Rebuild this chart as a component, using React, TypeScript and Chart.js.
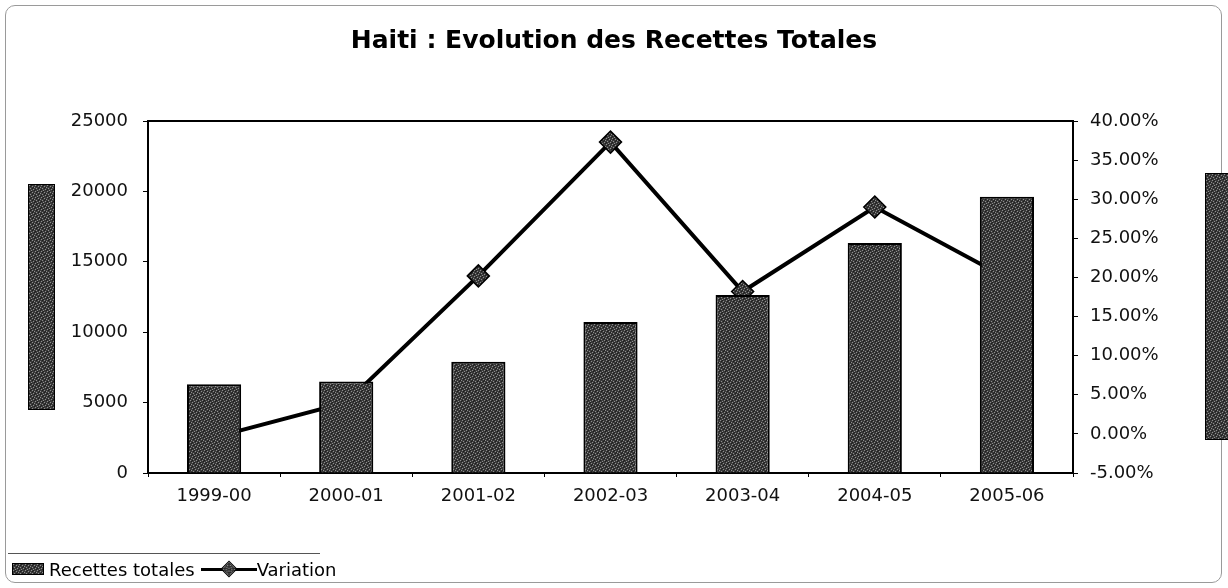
import React, { useEffect, useRef, useState } from "react";
import { Chart, registerables } from "chart.js";

Chart.register(...registerables);

const title = "Haiti : Evolution des Recettes Totales";
const categories = ["1999-00", "2000-01", "2001-02", "2002-03", "2003-04", "2004-05", "2005-06"];
const recettesTotales = [6300, 6490, 7900, 10720, 12640, 16330, 19620];
const variation = [-0.44, 4.03, 20.2, 37.3, 18.2, 29.0, 19.9];
const leftTicks = [0, 5000, 10000, 15000, 20000, 25000];
const rightTicks = [-5, 0, 5, 10, 15, 20, 25, 30, 35, 40];
const seriesNames = ["Recettes totales", "Variation"];

const FONT = "'DejaVu Sans', 'Liberation Sans', Arial, sans-serif";

function makePattern(): HTMLCanvasElement {
  const c = document.createElement("canvas");
  c.width = 6;
  c.height = 6;
  const ctx = c.getContext("2d")!;
  ctx.fillStyle = "#3a3a3a";
  ctx.fillRect(0, 0, 6, 6);
  ctx.fillStyle = "#8e8e8e";
  [[0, 0], [3, 1], [1, 3], [4, 4], [5, 2], [2, 5]].forEach(([x, y]) => ctx.fillRect(x, y, 1, 1));
  ctx.fillStyle = "#1e1e1e";
  [[2, 0], [5, 5], [0, 4], [3, 3], [1, 1], [4, 2]].forEach(([x, y]) => ctx.fillRect(x, y, 1, 1));
  return c;
}

const frameTop = {
  id: "frameTop",
  afterDatasetsDraw(chart: any) {
    const { ctx, chartArea } = chart;
    ctx.save();
    ctx.strokeStyle = "#000";
    ctx.lineWidth = 2;
    ctx.beginPath();
    ctx.moveTo(chartArea.left, chartArea.top);
    ctx.lineTo(chartArea.right, chartArea.top);
    ctx.stroke();
    ctx.restore();
  },
};

export default function App() {
  const canvasRef = useRef<HTMLCanvasElement | null>(null);
  const [patternUrl, setPatternUrl] = useState<string>("");

  useEffect(() => {
    const patCanvas = makePattern();
    setPatternUrl(patCanvas.toDataURL());
    const ctx = canvasRef.current!.getContext("2d")!;
    const pattern = ctx.createPattern(patCanvas, "repeat")!;

    const chart = new Chart(ctx, {
      data: {
        labels: categories,
        datasets: [
          {
            type: "bar",
            label: seriesNames[0],
            data: recettesTotales,
            yAxisID: "y",
            backgroundColor: pattern as any,
            borderColor: "#000",
            borderWidth: 2,
            barPercentage: 0.41,
            categoryPercentage: 1,
            order: 0,
          },
          {
            type: "line",
            label: seriesNames[1],
            data: variation,
            yAxisID: "y1",
            borderColor: "#000",
            borderWidth: 4,
            pointStyle: "rectRot",
            pointRadius: 11,
            pointBackgroundColor: pattern as any,
            pointBorderColor: "#000",
            pointBorderWidth: 1.5,
            tension: 0,
            order: 1,
          },
        ],
      } as any,
      options: {
        responsive: false,
        animation: false,
        layout: { padding: { top: 0, left: 0, right: 0, bottom: 0 } },
        plugins: {
          legend: { display: false },
          tooltip: { enabled: false },
          title: {
            display: true,
            text: title,
            color: "#000",
            font: { family: FONT, size: 25, weight: "bold", lineHeight: 1.2 },
            padding: { top: 26, bottom: 65 },
          },
        },
        scales: {
          x: {
            type: "category",
            offset: true,
            grid: { offset: true, drawOnChartArea: false, color: "#000", tickLength: 4 },
            border: { display: true, color: "#000", width: 2 },
            ticks: { color: "#111", font: { family: FONT, size: 18 }, padding: 9, maxRotation: 0 },
            afterFit: (s: any) => {
              s.height = 115;
            },
          },
          y: {
            type: "linear",
            position: "left",
            min: leftTicks[0],
            max: leftTicks[leftTicks.length - 1],
            ticks: {
              stepSize: leftTicks[1] - leftTicks[0],
              color: "#111",
              font: { family: FONT, size: 18 },
              padding: 15,
              callback: (v: any) => String(v),
            },
            grid: { drawOnChartArea: false, color: "#000", tickLength: 5 },
            border: { display: true, color: "#000", width: 2 },
            afterFit: (s: any) => {
              s.width = 148;
            },
          },
          y1: {
            type: "linear",
            position: "right",
            min: rightTicks[0],
            max: rightTicks[rightTicks.length - 1],
            ticks: {
              stepSize: rightTicks[1] - rightTicks[0],
              color: "#111",
              font: { family: FONT, size: 18 },
              padding: 12,
              callback: (v: any) => Number(v).toFixed(2) + "%",
            },
            grid: { drawOnChartArea: false, color: "#000", tickLength: 5 },
            border: { display: true, color: "#000", width: 2 },
            afterFit: (s: any) => {
              s.width = 155;
            },
          },
        },
      } as any,
      plugins: [frameTop],
    });
    return () => chart.destroy();
  }, []);

  const patStyle = patternUrl ? { backgroundImage: `url(${patternUrl})` } : { background: "#3a3a3a" };

  return (
    <div style={{ position: "absolute", left: 0, top: 0, width: 1228, height: 588, background: "#fff", overflow: "hidden" }}>
      <canvas ref={canvasRef} width={1228} height={588} style={{ position: "absolute", left: 0, top: 0 }} />
      <div
        style={{
          position: "absolute",
          left: 5,
          top: 5,
          width: 1215,
          height: 576,
          border: "1px solid #9a9a9a",
          borderRadius: 10,
          pointerEvents: "none",
        }}
      />
      <div style={{ position: "absolute", left: 28, top: 184, width: 25, height: 224, border: "1px solid #000", ...patStyle }} />
      <div style={{ position: "absolute", left: 1205, top: 173, width: 25, height: 265, border: "1px solid #000", ...patStyle }} />
      <div style={{ position: "absolute", left: 8, top: 553, width: 312, borderTop: "1px solid #555" }} />
      <div
        style={{
          position: "absolute",
          left: 8,
          top: 556,
          height: 26,
          display: "flex",
          alignItems: "center",
          whiteSpace: "nowrap",
          fontFamily: FONT,
          fontSize: 18,
          color: "#000",
        }}
      >
        <div style={{ width: 30, height: 10, marginLeft: 4, border: "1px solid #000", flexShrink: 0, ...patStyle }} />
        <span style={{ marginLeft: 5 }}>{seriesNames[0]}</span>
        <div style={{ position: "relative", width: 56, height: 20, marginLeft: 6, flexShrink: 0 }}>
          <div style={{ position: "absolute", left: 0, right: 0, top: 9, height: 3, background: "#000" }} />
          <div
            style={{
              position: "absolute",
              left: 22,
              top: 4,
              width: 10,
              height: 10,
              transform: "rotate(45deg)",
              border: "1px solid #000",
              ...patStyle,
            }}
          />
        </div>
        <span>{seriesNames[1]}</span>
      </div>
    </div>
  );
}
